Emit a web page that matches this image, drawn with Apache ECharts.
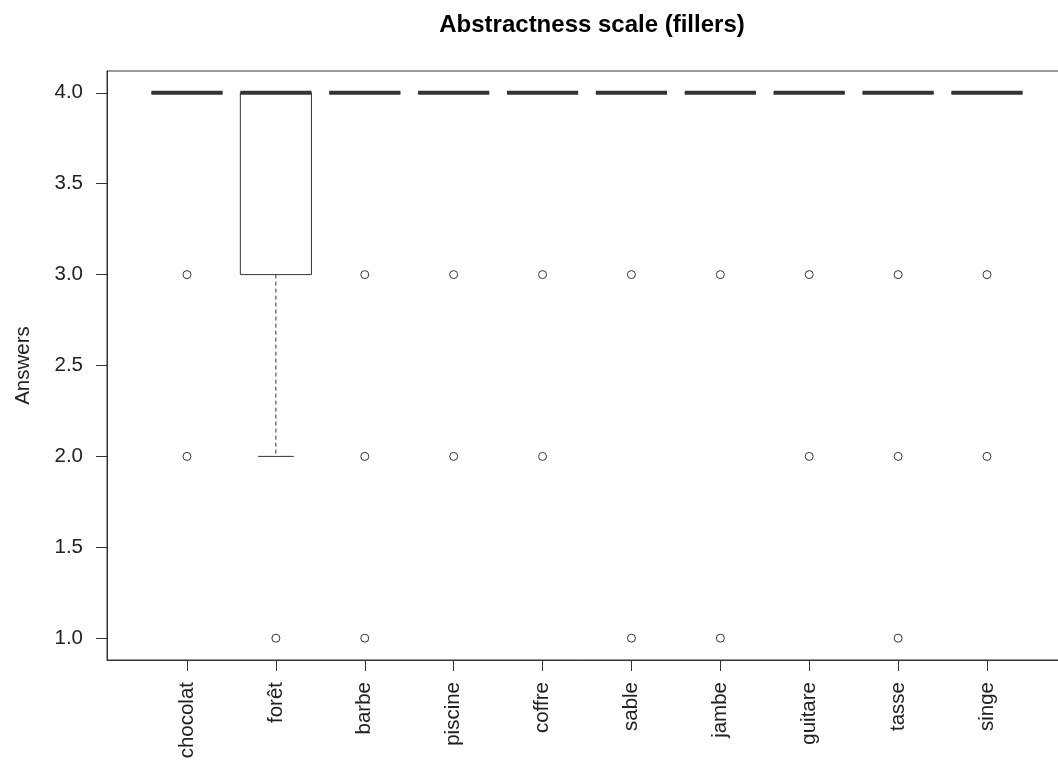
<!DOCTYPE html>
<html><head><meta charset="utf-8">
<script src="https://cdn.jsdelivr.net/npm/echarts@6/dist/echarts.min.js"></script>
<style>html,body{margin:0;padding:0;background:#fff}#c{width:1058px;height:767px}</style>
</head><body><div id="c"></div>
<script>
const categories = ['chocolat','forêt','barbe','piscine','coffre','sable','jambe','guitare','tasse','singe'];
const q1          = [4, 3, 4, 4, 4, 4, 4, 4, 4, 4];
const medians     = [4, 4, 4, 4, 4, 4, 4, 4, 4, 4];
const q3          = [4, 4, 4, 4, 4, 4, 4, 4, 4, 4];
const whiskerLow  = [4, 2, 4, 4, 4, 4, 4, 4, 4, 4];
const whiskerHigh = [4, 4, 4, 4, 4, 4, 4, 4, 4, 4];
const outliers = [
  [3, 2], [1], [3, 2, 1], [3, 2], [3, 2], [3, 1], [3, 1], [3, 2], [3, 2, 1], [3, 2]
];
const yTicks = [1.0, 1.5, 2.0, 2.5, 3.0, 3.5, 4.0];

const boxData = categories.map((c, i) => [i + 1, q1[i], medians[i], q3[i], whiskerLow[i], whiskerHigh[i]]);
const outlierData = [];
outliers.forEach((arr, i) => arr.forEach(v => outlierData.push([i + 1, v])));

const LINE = '#333';
const FONT = '"Liberation Sans", Arial, sans-serif';

function renderBox(params, api) {
  const x = api.value(0), lo1 = api.value(1), med = api.value(2), hi3 = api.value(3), wl = api.value(4), wh = api.value(5);
  const pL = api.coord([x - 0.4, med]);
  const pR = api.coord([x + 0.4, med]);
  const cL = api.coord([x - 0.2, med]);
  const cR = api.coord([x + 0.2, med]);
  const xc = api.coord([x, med])[0];
  const yq1 = api.coord([x, lo1])[1], yq3 = api.coord([x, hi3])[1], ym = pL[1];
  const ywl = api.coord([x, wl])[1], ywh = api.coord([x, wh])[1];
  const children = [];
  const ls = {stroke: LINE, lineWidth: 1, fill: null};
  if (wl < lo1) children.push({type: 'line', shape: {x1: xc, y1: yq1, x2: xc, y2: ywl}, style: Object.assign({}, ls, {lineDash: [4, 3]})});
  if (wh > hi3) children.push({type: 'line', shape: {x1: xc, y1: yq3, x2: xc, y2: ywh}, style: Object.assign({}, ls, {lineDash: [4, 3]})});
  children.push({type: 'line', shape: {x1: cL[0], y1: ywl, x2: cR[0], y2: ywl}, style: ls});
  children.push({type: 'line', shape: {x1: cL[0], y1: ywh, x2: cR[0], y2: ywh}, style: ls});
  children.push({type: 'rect', shape: {x: pL[0], y: yq3, width: pR[0] - pL[0], height: yq1 - yq3}, style: {stroke: LINE, lineWidth: 1, fill: '#fff'}});
  children.push({type: 'line', shape: {x1: pL[0], y1: ym, x2: pR[0], y2: ym}, style: {stroke: LINE, lineWidth: 4}});
  return {type: 'group', children};
}

const chart = echarts.init(document.getElementById('c'), null, {renderer: 'canvas'});
chart.setOption({
  backgroundColor: '#fff',
  animation: false,
  title: {
    text: 'Abstractness scale (fillers)',
    left: 587, top: 8, textAlign: 'center',
    textStyle: {fontFamily: FONT, fontSize: 24, fontWeight: 'bold', color: '#000'}
  },
  grid: {left: 107, top: 71, width: 960, bottom: 107, outerBoundsMode: 'none', containLabel: false,
         show: true, borderColor: LINE, borderWidth: 1, backgroundColor: 'transparent'},
  xAxis: {
    type: 'value', min: 0.1, max: 10.9,
    splitLine: {show: false},
    axisLine: {show: true, lineStyle: {color: LINE, width: 1}},
    axisTick: {show: true, length: 11, inside: false, customValues: categories.map((c, i) => i + 1), lineStyle: {color: LINE}},
    axisLabel: {
      customValues: categories.map((c, i) => i + 1),
      formatter: v => categories[Math.round(v) - 1] || '',
      rotate: 90, margin: 22, fontFamily: FONT, fontSize: 20.5, color: '#222'
    }
  },
  yAxis: {
    type: 'value', min: 0.88, max: 4.12,
    name: 'Answers', nameLocation: 'middle', nameGap: 73, nameRotate: 90,
    nameTextStyle: {fontFamily: FONT, fontSize: 20.5, color: '#222'},
    splitLine: {show: false},
    axisLine: {show: true, lineStyle: {color: LINE, width: 1}},
    axisTick: {show: true, length: 11, customValues: yTicks, lineStyle: {color: LINE}},
    axisLabel: {customValues: yTicks, formatter: v => v.toFixed(1), margin: 24, fontFamily: FONT, fontSize: 20.5, color: '#222'}
  },
  series: [
    {type: 'custom', data: boxData, renderItem: renderBox, clip: false, z: 2},
    {type: 'scatter', data: outlierData, symbol: 'circle', symbolSize: 8,
     itemStyle: {color: '#fff', borderColor: LINE, borderWidth: 1, opacity: 1}, z: 3}
  ]
});
</script></body></html>
